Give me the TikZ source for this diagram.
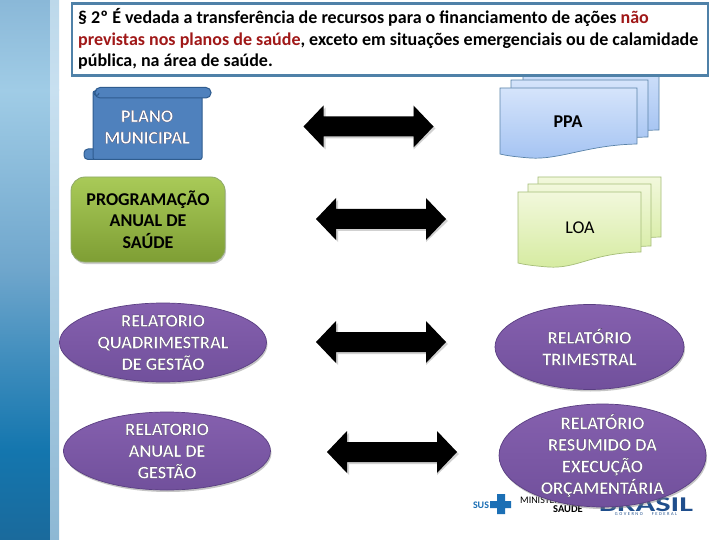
\documentclass[tikz,border=0pt]{standalone}
\usepackage{fontspec}
\setmainfont{Carlito}
\usetikzlibrary{shapes.geometric,shadows}
\definecolor{boxblue}{HTML}{4F81A8}
\definecolor{darkred}{HTML}{A01818}
\definecolor{scrollfill}{HTML}{4F81BD}
\definecolor{scrollline}{HTML}{2F5C8F}
\definecolor{ppaline}{HTML}{5A83A8}
\definecolor{loaline}{HTML}{A5BD78}
\definecolor{logoblue}{HTML}{1B6FB5}
\definecolor{brasilblue}{HTML}{1F4E8C}
\definecolor{ovtop}{HTML}{8560AE}
\definecolor{ovbot}{HTML}{71509C}
\definecolor{ovline}{HTML}{5A3F82}
\definecolor{ppatop}{HTML}{D5E4FB}
\definecolor{ppabot}{HTML}{A4C3F2}
\definecolor{loatop}{HTML}{F2F8DC}
\definecolor{loabot}{HTML}{D5EBA0}
\definecolor{grtop}{HTML}{A9CA58}
\definecolor{grbot}{HTML}{7E9E34}
\definecolor{grline}{HTML}{8FA96A}
\definecolor{banda}{HTML}{8AB8D8}
\definecolor{bandb}{HTML}{A0CCE6}
\definecolor{bandc}{HTML}{6FA6CC}
\definecolor{bandd}{HTML}{3F8DBD}
\definecolor{bande}{HTML}{1476AE}
\definecolor{bandf}{HTML}{1A6A9C}
\definecolor{striptop}{HTML}{BCD8EA}
\definecolor{stripmid}{HTML}{C8E0F0}
\definecolor{stripbot}{HTML}{8DB8D4}
\newcommand{\halo}[1]{\special{pdf:code 2 Tr 0.18 w 0.22 0.18 0.3 RG}#1\special{pdf:code 0 Tr}}
\tikzset{
  lbl/.style={font=\bfseries\fontsize{18}{21.6}\selectfont,align=center},
  oval/.style={ellipse,inner sep=-45pt,top color=ovtop,bottom color=ovbot,draw=ovline,line width=.7pt,drop shadow={shadow xshift=1pt,shadow yshift=-2pt,fill=gray,opacity=.45}},
  ppapage/.style={draw=ppaline,line width=.7pt,top color=ppatop,bottom color=ppabot},
  loapage/.style={draw=loaline,line width=.7pt,top color=loatop,bottom color=loabot},
  blockarrow/.style={fill=black,draw=none},
  arrowshade/.style={fill=black,opacity=.18,draw=none},
  scrollpart/.style={fill=scrollfill,draw=scrollline,line width=1pt},
}
% block double arrow: left tip x, centre y
\newcommand{\dblarrow}[2]{%
  \path[arrowshade] (#1+2,#2+2) -- (#1+22,#2-19) -- (#1+22,#2-8) -- (#1+110,#2-8) -- (#1+110,#2-19) -- (#1+132,#2+2) -- (#1+110,#2+23) -- (#1+110,#2+12) -- (#1+22,#2+12) -- (#1+22,#2+23) -- cycle;
  \path[blockarrow] (#1,#2) -- (#1+20,#2-21) -- (#1+20,#2-10) -- (#1+110,#2-10) -- (#1+110,#2-21) -- (#1+130,#2) -- (#1+110,#2+21) -- (#1+110,#2+10) -- (#1+20,#2+10) -- (#1+20,#2+21) -- cycle;
}
% document page: style, left, top, right, right-bottom y, left-bottom y
\newcommand{\docpage}[6]{%
  \path[#1] (#2,#3) -- (#4,#3) -- (#4,#5) .. controls (#4-50,#5+1) and (#2+60,#6+5) .. (#2+30,#6+3) .. controls (#2+18,#6+2) and (#2+8,#6+1) .. (#2,#6-1) -- cycle;
}
\begin{document}
\begin{tikzpicture}[x=1pt,y=-1pt]
\useasboundingbox (0,0) rectangle (720,540);
\fill[white] (0,0) rectangle (720,540);
% left band
\shade[top color=banda,bottom color=bandb] (0,0) rectangle (50,90.3);
\shade[top color=bandb,bottom color=bandc] (0,90) rectangle (50,270.3);
\shade[top color=bandc,bottom color=bandd] (0,270) rectangle (50,360.3);
\shade[top color=bandd,bottom color=bande] (0,360) rectangle (50,450.3);
\shade[top color=bande,bottom color=bandf] (0,450) rectangle (50,540);
\shade[top color=striptop,bottom color=stripmid] (50,0) rectangle (59,90.3);
\shade[top color=stripmid,bottom color=stripbot] (50,90) rectangle (59,540);
% PPA stack
\docpage{ppapage}{523}{60}{659}{130}{130}
\docpage{ppapage}{511}{80}{648}{137}{142}
\docpage{ppapage}{500}{88}{637}{144}{155}
\node[font=\bfseries\fontsize{18}{20}\selectfont,inner sep=0pt] (ppa) at (568,122) {PPA};
% LOA stack
\docpage{loapage}{538}{177}{661}{237}{247}
\docpage{loapage}{528}{184}{651}{246}{256}
\docpage{loapage}{518}{192}{641}{252}{264}
\node[font=\fontsize{18}{20}\selectfont,inner sep=0pt] (loa) at (580,228) {LOA};
% text box
\node[draw=boxblue,line width=2.6pt,fill=white,minimum width=636pt,minimum height=72pt,inner sep=0pt,anchor=north west] (box) at (70.5,2.5) {};
\node[anchor=west,align=left,inner sep=0pt,font=\bfseries\fontsize{18}{21.8}\selectfont] (boxtext) at (78,39)
 {§ 2º É vedada a transferência de recursos para o financiamento de ações \textcolor{darkred}{não}\\
  \textcolor{darkred}{previstas nos planos de saúde}, exceto em situações emergenciais ou de calamidade\\
  pública, na área de saúde.};
% scroll
\draw[scrollpart,rounded corners=4pt] (84,149) rectangle (104,159.5);
\draw[scrollpart,rounded corners=2pt] (93,91) rectangle (202,159.5);
\draw[scrollpart,rounded corners=5pt] (95,87.5) rectangle (211,98);
\draw[scrollline,line width=1pt] (99,93) arc[start angle=0,end angle=270,radius=2.5];
\node[lbl,text=white,inner sep=0pt] (plano) at (147,127) {\halo{PLANO\\MUNICIPAL}};
% green rounded box
\node[rectangle,rounded corners=14pt,minimum width=154pt,minimum height=85pt,inner sep=0pt,top color=grtop,bottom color=grbot,draw=grline,line width=.8pt,drop shadow={shadow xshift=1pt,shadow yshift=-2pt,fill=gray,opacity=.4},lbl] (prog) at (148,219.5) {PROGRAMAÇÃO\\ANUAL DE\\SAÚDE};
% arrows
\dblarrow{303.5}{126.5}
\dblarrow{316}{219}
\dblarrow{316}{342}
\dblarrow{327}{452}
% logo
\node[font=\bfseries\fontsize{10}{12}\selectfont,text=logoblue,inner sep=0pt] (sus) at (481,505) {SUS};
\path[fill=logoblue] (497,494) rectangle (505,514) (490,501) rectangle (511,508);
\node[font=\fontsize{10}{11}\selectfont,anchor=west,inner sep=0pt] (min) at (520,499) {MINISTÉRIO DA};
\node[font=\bfseries\fontsize{10.5}{11}\selectfont,inner sep=0pt] (saude) at (568,508) {SAÚDE};
\node[font=\bfseries\fontsize{21}{22}\selectfont,text=brasilblue,inner sep=0pt,anchor=base,xscale=1.55,transform shape] (brasil) at (646,511.5) {BRASIL};
\node[font=\fontsize{4.5}{5}\selectfont,text=brasilblue,inner sep=0pt,anchor=north] (gov) at (646,512.5) {G\,\,O\,\,V\,\,E\,\,R\,\,N\,\,O\qquad F\,\,E\,\,D\,\,E\,\,R\,\,A\,\,L};
% ovals
\node[oval,lbl,text=white,minimum width=207pt,minimum height=79pt] (rq) at (163,342.5) {\halo{RELATORIO\\QUADRIMESTRAL\\DE GESTÃO}};
\node[oval,lbl,text=white,minimum width=207pt,minimum height=78pt] (ra) at (167,451) {\halo{RELATORIO\\ANUAL DE\\GESTÃO}};
\node[oval,lbl,text=white,minimum width=189pt,minimum height=85pt] (rt) at (589.5,347) {\halo{RELATÓRIO\\TRIMESTRAL}};
\node[oval,lbl,text=white,minimum width=207pt,minimum height=103pt] (rr) at (602.5,455.5) {\halo{RELATÓRIO\\RESUMIDO DA\\EXECUÇÃO\\ORÇAMENTÁRIA}};
\end{tikzpicture}
\end{document}
